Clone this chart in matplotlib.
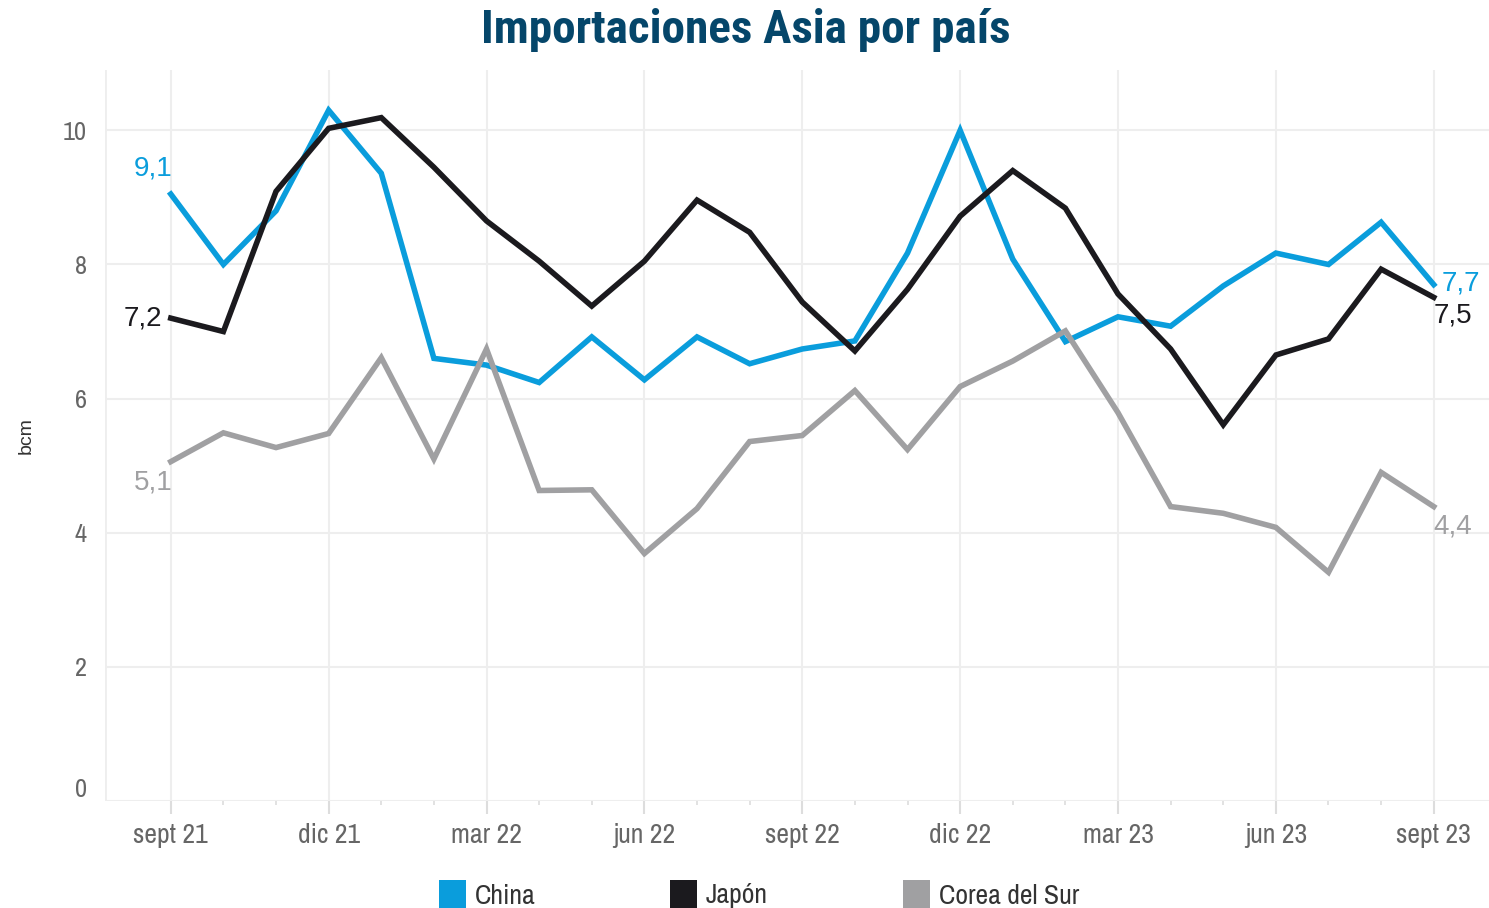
import matplotlib
matplotlib.use('Agg')
import matplotlib.pyplot as plt
from matplotlib.patches import Rectangle

# monthly data, sept 21 -> sept 23 (bcm)
months = ['sept 21', 'oct 21', 'nov 21', 'dic 21', 'ene 22', 'feb 22', 'mar 22', 'abr 22', 'may 22',
          'jun 22', 'jul 22', 'ago 22', 'sept 22', 'oct 22', 'nov 22', 'dic 22', 'ene 23', 'feb 23',
          'mar 23', 'abr 23', 'may 23', 'jun 23', 'jul 23', 'ago 23', 'sept 23']
china = [9.05, 8.0, 8.8, 10.3, 9.36, 6.6, 6.5, 6.24, 6.92, 6.28, 6.92, 6.52, 6.74,
         6.86, 8.17, 10.0, 8.08, 6.85, 7.22, 7.08, 7.68, 8.17, 8.0, 8.63, 7.7]
japon = [7.2, 7.0, 9.09, 10.03, 10.19, 9.45, 8.65, 8.05, 7.38, 8.05, 8.96, 8.48, 7.44,
         6.71, 7.63, 8.72, 9.4, 8.84, 7.56, 6.74, 5.61, 6.65, 6.89, 7.93, 7.51]
corea = [5.06, 5.49, 5.27, 5.48, 6.61, 5.1, 6.74, 4.63, 4.64, 3.69, 4.36, 5.36, 5.45,
         6.12, 5.24, 6.18, 6.56, 7.01, 5.79, 4.39, 4.29, 4.08, 3.41, 4.9, 4.39]

series = [('China', china, '#0a9ddc'), ('Japón', japon, '#1b1a1e'), ('Corea del Sur', corea, '#a0a0a2')]

# fonts: condensed for axes/title, regular for value labels
cond = ['Archivo Narrow', 'Roboto Condensed', 'Liberation Sans Narrow', 'DejaVu Sans']
title_font = ['Roboto Condensed', 'Fira Sans Condensed', 'Archivo Narrow', 'DejaVu Sans']
plain = ['Liberation Sans', 'DejaVu Sans']
plt.rcParams['font.family'] = cond

fig = plt.figure(figsize=(14.89, 9.08), dpi=100)
ax = fig.add_axes([105 / 1489, 1 - 801 / 908, (1489 - 105) / 1489, (801 - 70) / 908])

x = list(range(len(months)))
for name, vals, col in series:
    ax.plot(x, vals, color=col, lw=4, solid_joinstyle='miter', label=name, zorder=3)

# end labels
def fmt(v):
    return f'{v:.1f}'.replace('.', ',')

lab_kw = dict(textcoords='offset points', fontsize=20, family=plain)
ax.annotate(fmt(china[0]), (0, china[0]), xytext=(1, 9), ha='right', va='bottom', color=series[0][2], **lab_kw)
ax.annotate(fmt(japon[0]), (0, japon[0]), xytext=(-6, 0), ha='right', va='center', color=series[1][2], **lab_kw)
ax.annotate(fmt(corea[0]), (0, corea[0]), xytext=(1, -6), ha='right', va='top', color=series[2][2], **lab_kw)
ax.annotate(fmt(china[-1]), (24, china[-1]), xytext=(6, 1), ha='left', va='center', color=series[0][2], **lab_kw)
ax.annotate(fmt(japon[-1]), (24, japon[-1]), xytext=(0, -4), ha='left', va='top', color=series[1][2], **lab_kw)
ax.annotate(fmt(corea[-1]), (24, corea[-1]), xytext=(0, -5), ha='left', va='top', color=series[2][2], **lab_kw)

ax.set_xlim(-1.25, 25.05)
ax.set_ylim(0, 10.9)
ax.set_yticks([0, 2, 4, 6, 8, 10])
ax.set_yticklabels(['0', '2', '4', '6', '8', '10'])
ax.set_xticks(x[::3])
ax.set_xticklabels(months[::3])
ax.set_xticks(x, minor=True)

ax.grid(True, color='#eeeeee', lw=1.5, zorder=0)
for s in ax.spines.values():
    s.set_visible(False)
ax.axhline(0, color='#eeeeee', lw=2, zorder=1)
ax.axvline(-1.25, color='#eeeeee', lw=2, zorder=1)

ax.tick_params(axis='y', length=0, pad=13, labelsize=19, labelcolor='#666666')
ax.tick_params(axis='x', which='major', length=9, width=1.5, color='#dddddd', pad=7,
               labelsize=20, labelcolor='#666666')
ax.tick_params(axis='x', which='minor', length=3, width=1.2, color='#dddddd')
for t in ax.get_yticklabels():
    if t.get_text() == '0':
        t.set_va('bottom')

ax.set_ylabel('bcm', fontsize=14, color='#333333', family=plain, labelpad=20)

fig.suptitle('Importaciones Asia por país', x=0.501, y=0.991, fontsize=34, fontweight='bold',
             color='#05466a', va='top', family=title_font)

# legend, drawn as squares + text along the bottom edge
leg_x = [439, 670, 903]
for (name, _, col), lx in zip(series, leg_x):
    fig.patches.append(Rectangle((lx / 1489, 0), 27 / 1489, 28 / 908, transform=fig.transFigure,
                                 facecolor=col, edgecolor='none'))
    fig.text((lx + 36) / 1489, 12 / 908, name, fontsize=20, color='#333333', va='center', ha='left')

fig.savefig('out.png', dpi=100)
